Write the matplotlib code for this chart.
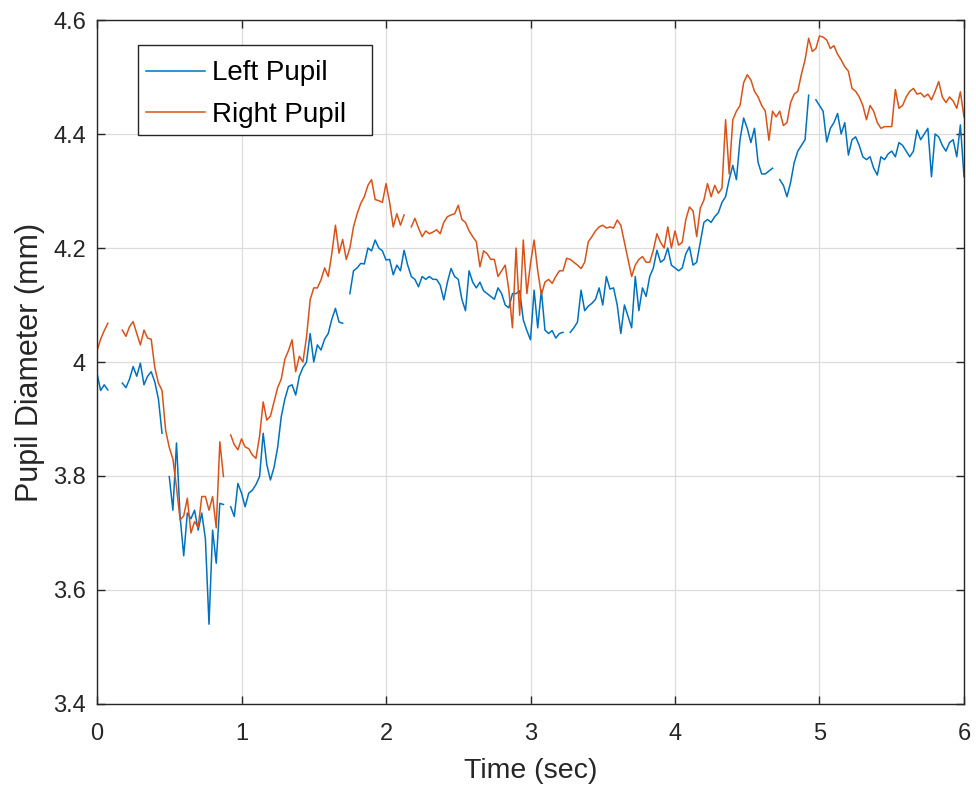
import numpy as np
import matplotlib
matplotlib.use("Agg")
import matplotlib.pyplot as plt
from matplotlib.patches import Rectangle

nan = np.nan
sample_step = 0.025  # seconds between samples

left_pupil = [
    3.98, 3.95, 3.96, 3.951, nan, nan, nan, 3.963, 3.955, 3.97,
    3.992, 3.975, 3.998, 3.96, 3.975, 3.983, 3.965, 3.935, 3.875, nan,
    3.799, 3.74, 3.858, 3.729, 3.66, 3.735, 3.725, 3.74, 3.705, 3.735,
    3.69, 3.54, 3.705, 3.647, 3.752, 3.75, nan, 3.746, 3.729, 3.787,
    3.77, 3.746, 3.77, 3.775, 3.785, 3.799, 3.875, 3.82, 3.793, 3.815,
    3.85, 3.904, 3.935, 3.957, 3.96, 3.942, 3.975, 3.99, 4.0, 4.05,
    4.0, 4.03, 4.021, 4.04, 4.05, 4.075, 4.094, 4.07, 4.068, nan,
    4.12, 4.16, 4.165, 4.173, 4.172, 4.2, 4.195, 4.214, 4.2, 4.195,
    4.179, 4.18, 4.153, 4.17, 4.16, 4.196, 4.17, 4.15, 4.145, 4.132,
    4.15, 4.145, 4.15, 4.145, 4.145, 4.135, 4.109, 4.14, 4.164, 4.15,
    4.145, 4.11, 4.09, 4.16, 4.14, 4.13, 4.14, 4.125, 4.12, 4.115,
    4.11, 4.13, 4.12, 4.1, 4.095, 4.12, 4.12, 4.125, 4.074, 4.055,
    4.039, 4.126, 4.06, 4.126, 4.056, 4.05, 4.055, 4.042, 4.05, 4.052,
    nan, 4.052, 4.06, 4.07, 4.126, 4.09, 4.098, 4.103, 4.11, 4.13,
    4.1, 4.15, 4.128, 4.13, 4.1, 4.05, 4.1, 4.08, 4.06, 4.15,
    4.09, 4.13, 4.115, 4.15, 4.165, 4.196, 4.175, 4.18, 4.2, 4.17,
    4.165, 4.16, 4.165, 4.19, 4.202, 4.17, 4.175, 4.21, 4.245, 4.25,
    4.245, 4.255, 4.262, 4.28, 4.29, 4.32, 4.345, 4.32, 4.39, 4.428,
    4.41, 4.385, 4.41, 4.35, 4.33, 4.33, 4.335, 4.34, nan, 4.32,
    4.31, 4.29, 4.315, 4.35, 4.37, 4.38, 4.39, 4.468, nan, 4.46,
    4.45, 4.44, 4.386, 4.41, 4.42, 4.436, 4.40, 4.42, 4.363, 4.39,
    4.395, 4.38, 4.36, 4.355, 4.36, 4.34, 4.328, 4.36, 4.355, 4.365,
    4.37, 4.36, 4.385, 4.38, 4.37, 4.36, 4.37, 4.407, 4.39, 4.4,
    4.41, 4.325, 4.4, 4.395, 4.38, 4.37, 4.385, 4.39, 4.36, 4.416,
    4.325,
]

right_pupil = [
    4.02, 4.04, 4.055, 4.068, nan, nan, nan, 4.056, 4.045, 4.062,
    4.071, 4.05, 4.03, 4.056, 4.042, 4.04, 3.99, 3.963, 3.95, 3.88,
    3.85, 3.83, 3.78, 3.723, 3.73, 3.761, 3.70, 3.72, 3.71, 3.764,
    3.764, 3.74, 3.764, 3.709, 3.86, 3.799, nan, 3.872, 3.855, 3.846,
    3.865, 3.851, 3.848, 3.837, 3.831, 3.87, 3.93, 3.898, 3.905, 3.93,
    3.955, 3.97, 4.005, 4.02, 4.039, 3.983, 4.01, 4.0, 4.044, 4.109,
    4.13, 4.13, 4.144, 4.165, 4.15, 4.19, 4.24, 4.191, 4.215, 4.18,
    4.2, 4.237, 4.26, 4.278, 4.29, 4.31, 4.32, 4.285, 4.283, 4.28,
    4.313, 4.28, 4.237, 4.26, 4.24, 4.258, nan, 4.237, 4.252, 4.235,
    4.22, 4.23, 4.225, 4.228, 4.232, 4.225, 4.245, 4.255, 4.258, 4.26,
    4.275, 4.25, 4.245, 4.23, 4.22, 4.211, 4.167, 4.195, 4.19, 4.18,
    4.18, 4.15, 4.16, 4.17, 4.126, 4.06, 4.2, 4.082, 4.214, 4.12,
    4.173, 4.214, 4.16, 4.118, 4.14, 4.145, 4.138, 4.15, 4.16, 4.16,
    4.182, 4.18, 4.175, 4.17, 4.164, 4.175, 4.211, 4.22, 4.23, 4.237,
    4.24, 4.235, 4.237, 4.235, 4.249, 4.24, 4.21, 4.18, 4.15, 4.17,
    4.18, 4.185, 4.175, 4.175, 4.196, 4.225, 4.21, 4.2, 4.237, 4.2,
    4.23, 4.205, 4.21, 4.25, 4.272, 4.265, 4.22, 4.27, 4.284, 4.313,
    4.29, 4.31, 4.296, 4.305, 4.425, 4.33, 4.425, 4.44, 4.45, 4.49,
    4.504, 4.495, 4.475, 4.465, 4.45, 4.44, 4.389, 4.44, 4.43, 4.44,
    4.415, 4.42, 4.455, 4.47, 4.475, 4.505, 4.53, 4.568, 4.545, 4.55,
    4.572, 4.57, 4.565, 4.55, 4.555, 4.54, 4.53, 4.518, 4.51, 4.48,
    4.475, 4.465, 4.45, 4.425, 4.45, 4.44, 4.42, 4.41, 4.413, 4.413,
    4.413, 4.478, 4.445, 4.45, 4.465, 4.475, 4.48, 4.47, 4.472, 4.465,
    4.47, 4.46, 4.475, 4.492, 4.465, 4.455, 4.465, 4.458, 4.445, 4.474,
    4.43,
]

x_ticks = [0, 1, 2, 3, 4, 5, 6]
y_ticks = [3.4, 3.6, 3.8, 4.0, 4.2, 4.4, 4.6]
y_tick_labels = ["3.4", "3.6", "3.8", "4", "4.2", "4.4", "4.6"]

time = np.arange(len(left_pupil)) * sample_step

plt.rcParams['font.family'] = ['Liberation Sans', 'DejaVu Sans']

fig = plt.figure(figsize=(9.76, 7.91), dpi=100)
ax = fig.add_axes([0.0994, 0.110, 0.8883, 0.8647])

ax.plot(time, left_pupil, color='#0072BD', lw=1.1, label='Left Pupil')
ax.plot(time, right_pupil, color='#D95319', lw=1.1, label='Right Pupil')

ax.set_xlim(0, 6)
ax.set_ylim(3.4, 4.6)
ax.set_xticks(x_ticks)
ax.set_yticks(y_ticks)
ax.set_yticklabels(y_tick_labels)

ax.grid(True, color='#dcdcdc', lw=0.9)
ax.set_axisbelow(True)
ax.tick_params(direction='in', length=6, width=1, colors='#262626',
               labelsize=17, top=True, right=True)
ax.tick_params(axis='x', pad=14)
ax.tick_params(axis='y', pad=8)
for s in ax.spines.values():
    s.set_color('#262626')
    s.set_linewidth(1.0)

ax.set_xlabel('Time (sec)', fontsize=20.5, color='#262626', labelpad=9)
ax.set_ylabel('Pupil Diameter (mm)', fontsize=22, color='#262626', labelpad=6)

# legend box (MATLAB-style, wider than the text)
box = Rectangle((0.0473, 0.8319), 0.2699, 0.1316, transform=ax.transAxes,
                facecolor='white', edgecolor='#262626', lw=1.0, zorder=4.5)
ax.add_patch(box)
leg = ax.legend(loc='upper left', bbox_to_anchor=(0.0393, 0.9635),
                borderaxespad=0, fontsize=20, frameon=False,
                handlelength=2.1, handletextpad=0.25,
                borderpad=0.55, labelspacing=0.55)
leg.set_zorder(5)

fig.savefig('out.png', dpi=100)
